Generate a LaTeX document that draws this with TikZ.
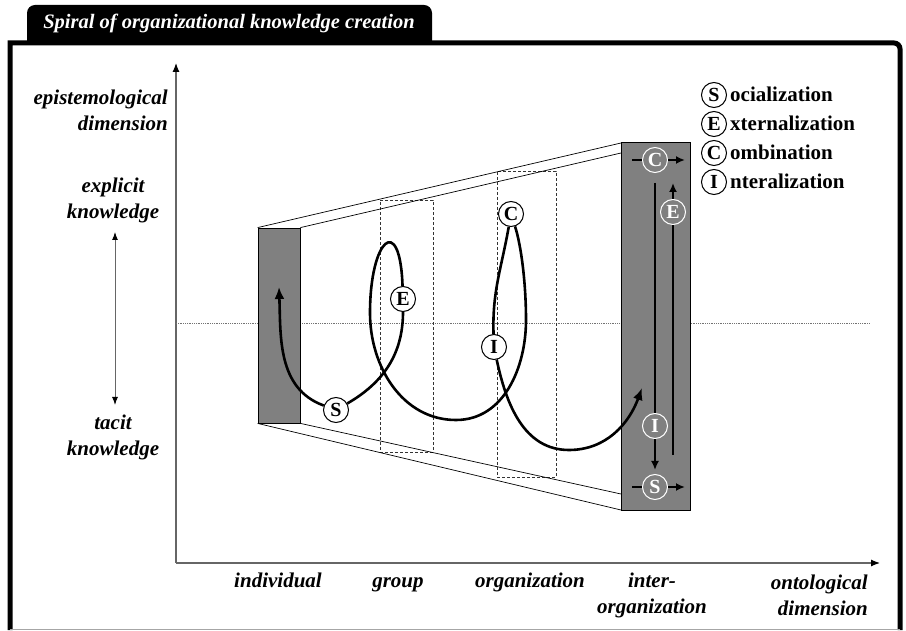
\documentclass[tikz,border=0pt]{standalone}
\usepackage{fontspec}
\setmainfont{Liberation Serif}
\usetikzlibrary{positioning, arrows.meta}
\definecolor{boxgray}{gray}{0.5}

\begin{document}
\begin{tikzpicture}[
    x=1pt, y=1pt,
    >={Latex[length=12pt, width=10pt]},
    axislabel/.style={font=\fontsize{21}{26}\selectfont\bfseries\itshape, inner sep=0pt},
    titletext/.style={font=\fontsize{20.5}{24}\selectfont\bfseries\itshape, text=white, inner sep=0pt},
    legtext/.style={font=\fontsize{21}{21}\selectfont\bfseries, inner sep=0pt},
    seci/.style={circle, draw=black, fill=white, line width=1pt, minimum size=25pt, inner sep=0pt, font=\fontsize{20}{20}\selectfont\bfseries},
    inbox/.style={seci, draw=white, fill=boxgray, text=white},
    level/.style={draw=black, fill=boxgray, line width=0.8pt, inner sep=0pt},
    zone/.style={draw=black!80, dash pattern=on 3pt off 2pt, line width=0.9pt, inner sep=0pt},
    persp/.style={line width=0.7pt},
    spiral/.style={line width=2.6pt},
    flow/.style={line width=1.8pt, -{Latex[length=9pt, width=8pt]}},
    axis/.style={draw=black!60, line width=1.2pt, -{Latex[length=9pt, width=7pt, color=black]}}
]

   % Frame and title tab
   \useasboundingbox (0,0) rectangle (906,630);
   \draw[line width=5pt] (10,0) -- (10,587) -- (894,587) arc[start angle=90, end angle=0, radius=6] -- (900,0);
   \draw[black!35, line width=1pt] (10,1) -- (900,1);
   \fill (27,586) -- (27,617) arc[start angle=180, end angle=90, radius=8] -- (424,625) arc[start angle=90, end angle=0, radius=8] -- (432,586) -- cycle;
   \node[titletext] (title) at (229,607) {Spiral of organizational knowledge creation};

   % Axes
   \coordinate (origin) at (176,67);
   \coordinate (ytip) at (176,567);
   \coordinate (xtip) at (880,67);
   \draw[axis] (origin) -- (ytip);
   \draw[axis] (origin) -- (xtip);
   \coordinate (midL) at (176,307);
   \coordinate (midR) at (870,307);
   \draw[black!55, densely dotted, line width=0.8pt] (midL) -- (midR);

   % Epistemological dimension
   \node[axislabel, align=right, anchor=east] (epi) at (168,520) {epistemological\\dimension};
   \node[axislabel, align=center] (expl) at (113,430) {explicit\\knowledge};
   \node[axislabel, align=center] (tacit) at (113,193) {tacit\\knowledge};
   \coordinate (kup) at (115,398);
   \coordinate (kdown) at (115,225);
   \draw[black!60, line width=1pt, {Latex[length=8pt, width=6pt, color=black]}-{Latex[length=8pt, width=6pt, color=black]}] (kup) -- (kdown);

   % Ontological dimension
   \node[axislabel, anchor=base] (indl) at (278,42) {individual};
   \node[axislabel, anchor=base] (grpl) at (398,42) {group};
   \node[axislabel, anchor=base] (orgl) at (530,42) {organization};
   \node[axislabel, align=center] (interl) at (652,35) {inter-\\organization};
   \node[axislabel, align=right, anchor=east] (ontol) at (868,35) {ontological\\dimension};

   % Levels
   \node[zone, minimum width=53pt, minimum height=252pt] (grpzone) at (406.5,304) {};
   \node[zone, minimum width=59pt, minimum height=306pt] (orgzone) at (526.5,306) {};
   \node[level, minimum width=42pt, minimum height=195pt] (ind) at (279,304.5) {};
   \draw[persp] (ind.north west) -- (621,487);
   \draw[persp] (ind.north east) -- (621,477);
   \draw[persp] (ind.south west) -- (621,120);
   \draw[persp] (ind.south east) -- (621,136);
   \node[level, minimum width=69pt, minimum height=368pt] (inter) at (655.5,304) {};

   % Spiral
   \coordinate (start) at (279,343);
   \coordinate (eleft) at (370,317);
   \coordinate (dip1) at (456,210);
   \coordinate (cright) at (526,310);
   \coordinate (dip2) at (569,180);
   \coordinate (finish) at (642,242);
   \node[seci] (S) at (336,220) {S};
   \node[seci] (E) at (403,331) {E};
   \node[seci] (C) at (511,416) {C};
   \node[seci] (I) at (494,283) {I};
   \draw[spiral, ->] (S) to[out=160, in=-88] (start);
   \draw[spiral] (S) to[out=30, in=-90] (E);
   \draw[spiral] (E) to[out=92, in=90, out distance=74pt, in distance=74pt] (eleft)
        to[out=-90, in=180] (dip1) to[out=0, in=-90] (cright)
        to[out=90, in=-72, in distance=20pt] (C);
   \draw[spiral] (C) to[out=-100, in=92] (I);
   \draw[spiral, ->] (I) to[out=-78, in=180] (dip2) to[out=0, in=-110] (finish);

   % Inter-organization
   \node[inbox] (rC) at (655,470) {C};
   \node[inbox] (rS) at (655,143) {S};
   \coordinate (cin) at (632,470);
   \coordinate (cout) at (685,470);
   \coordinate (sin) at (632,143);
   \coordinate (sout) at (685,143);
   \coordinate (ubot) at (673,175);
   \coordinate (utop) at (673,447);
   \draw[line width=1.8pt] (cin) -- (rC);
   \draw[flow] (rC) -- (cout);
   \draw[line width=1.8pt] (sin) -- (rS);
   \draw[flow] (rS) -- (sout);
   \draw[flow, shorten <=10pt, shorten >=4pt] (rC) -- (rS);
   \draw[flow] (ubot) -- (utop);
   \node[inbox] (rE) at (673,418) {E};
   \node[inbox] (rI) at (655,204) {I};

   % Legend
   \node[seci] (lS) at (714,535) {S};
   \node[seci] (lE) at (714,506) {E};
   \node[seci] (lC) at (714,477) {C};
   \node[seci] (lI) at (714,448) {I};
   \node[legtext, right=3pt of lS.base east, anchor=base west] {ocialization};
   \node[legtext, right=3pt of lE.base east, anchor=base west] {xternalization};
   \node[legtext, right=3pt of lC.base east, anchor=base west] {ombination};
   \node[legtext, right=3pt of lI.base east, anchor=base west] {nteralization};

\end{tikzpicture}
\end{document}
